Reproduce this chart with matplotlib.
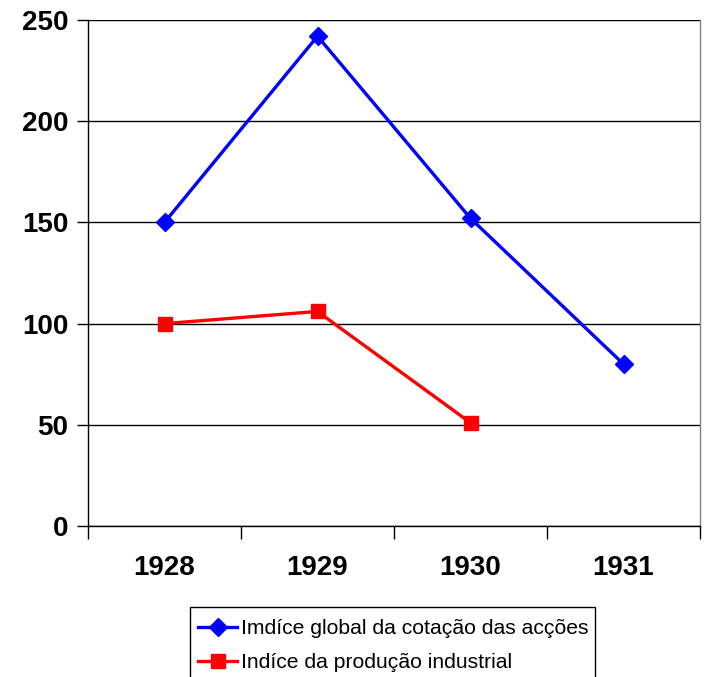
import matplotlib
matplotlib.use("Agg")
import matplotlib.pyplot as plt
from matplotlib.patches import Rectangle

years = ["1928", "1929", "1930", "1931"]
acoes = [150, 242, 152, 80]
producao_years = ["1928", "1929", "1930"]
producao = [100, 106, 51]
label_acoes = "Imdíce global da cotação das acções"
label_prod = "Indíce da produção industrial"
yticks = [0, 50, 100, 150, 200, 250]

plt.rcParams['font.family'] = ['Liberation Sans', 'DejaVu Sans']

W, H = 704, 677
fig = plt.figure(figsize=(W / 100, H / 100), dpi=100)
ax = fig.add_axes([88 / W, 1 - 526 / H, 612 / W, 506 / H])

x = list(range(len(years)))
xp = [years.index(y) for y in producao_years]
ax.plot(x, acoes, color='#0000FF', lw=2.4, marker='D', markersize=9.5,
        label=label_acoes, zorder=3, clip_on=False)
ax.plot(xp, producao, color='#FF0000', lw=2.4, marker='s', markersize=10,
        label=label_prod, zorder=3, clip_on=False)

ax.set_xlim(-0.5, len(years) - 0.5)
ax.set_ylim(0, 250)
ax.set_yticks(yticks)
ax.set_yticklabels([str(v) for v in yticks], fontsize=20, fontweight='bold')
ax.set_xticks(x)
ax.set_xticklabels(years, fontsize=20, fontweight='bold')
ax.tick_params(axis='x', length=0, pad=21)
ax.set_xticks([i - 0.5 for i in range(len(years) + 1)], minor=True)
ax.tick_params(axis='x', which='minor', length=9, width=1, direction='out', color='black')
ax.tick_params(axis='y', length=8, width=1, direction='out', pad=6)

ax.yaxis.grid(True, color='black', lw=1)
ax.set_axisbelow(True)
ax.spines['top'].set_visible(False)
ax.spines['right'].set_color('#808080')
ax.spines['right'].set_linewidth(1)
ax.spines['left'].set_linewidth(1)
ax.spines['bottom'].set_linewidth(1)

# legend box (extends past the bottom edge, as in the original)
fig.patches.append(Rectangle((190 / W, -0.05), 405 / W, (1 - 607 / H) + 0.05,
                             transform=fig.transFigure, facecolor='white',
                             edgecolor='black', lw=1, zorder=1))
leg = fig.legend(loc='upper left',
                 bbox_to_anchor=(198 / W, 1 - 619 / H),
                 fontsize=15.2, frameon=False,
                 handlelength=1.85, handletextpad=0.2,
                 borderpad=0, labelspacing=0.72, borderaxespad=0)
leg.set_zorder(2)

fig.savefig("out.png", dpi=100)
